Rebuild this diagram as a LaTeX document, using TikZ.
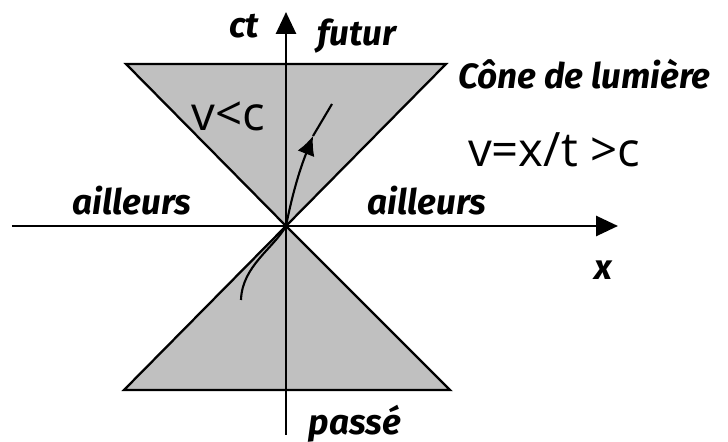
\documentclass[tikz,border=0pt]{standalone}
\usepackage{fontspec}
\setmainfont{Open Sans}
\newfontfamily\lblfont{Fira Sans}
\usetikzlibrary{arrows.meta,positioning,calc}
\definecolor{conegray}{HTML}{C0C0C0}

\begin{document}
\begin{tikzpicture}[x=0.02cm, y=0.02cm,
    every node/.style={inner sep=0pt},
    lbl/.style={font=\lblfont\bfseries\itshape\fontsize{20}{24}\selectfont},
    txt/.style={font=\fontsize{27}{31}\selectfont},
    axis/.style={line width=1.6pt, -{Triangle[length=0.44cm, width=0.4cm]}},
    cone/.style={line width=1.3pt, fill=conegray, line join=miter}]
  \useasboundingbox (-286,-216) rectangle (442,226);
  % cone corners
  \coordinate (O) at (0,0);
  \coordinate (tl) at (-160,162);
  \coordinate (tr) at (160,162);
  \coordinate (bl) at (-162,-164);
  \coordinate (br) at (164,-164);
  \draw[cone] (O) -- (tl) -- (tr) -- cycle;
  \draw[cone] (O) -- (bl) -- (br) -- cycle;
  % axes
  \coordinate (xl) at (-274,0);
  \coordinate (xr) at (332,0);
  \coordinate (yb) at (0,-209);
  \coordinate (yt) at (0,214);
  \draw[axis] (xl) -- (xr);
  \draw[axis] (yb) -- (yt);
  % world line
  \coordinate (w0) at (-45,-74);
  \coordinate (w1) at (27,90);
  \coordinate (w2) at (46,122);
  \draw[line width=1.2pt] (w0) .. controls (-44,-40) and (-12,-22) .. (O);
  \draw[line width=1.2pt, -{Latex[length=0.38cm, width=0.36cm]}] (O) .. controls (8,40) and (16,62) .. (w1);
  \draw[line width=1.2pt] (w1) -- (w2);
  % labels
  \node[lbl] (ct) at (-42,200) {ct};
  \node[lbl] (futur) at (71,190) {futur};
  \node[lbl, anchor=west] (lumiere) at (172,152) {Cône de lumière};
  \node[lbl] (ailleursL) at (-154,25) {ailleurs};
  \node[lbl] (ailleursR) at (141,25) {ailleurs};
  \node[lbl] (xlbl) at (317,-44) {x};
  \node[lbl] (passe) at (69,-198) {passé};
  \node[txt] (vlow) at (-58,110) {v<c};
  \node[txt] (vhigh) at (268,76) {v=x/t >c};
\end{tikzpicture}
\end{document}
